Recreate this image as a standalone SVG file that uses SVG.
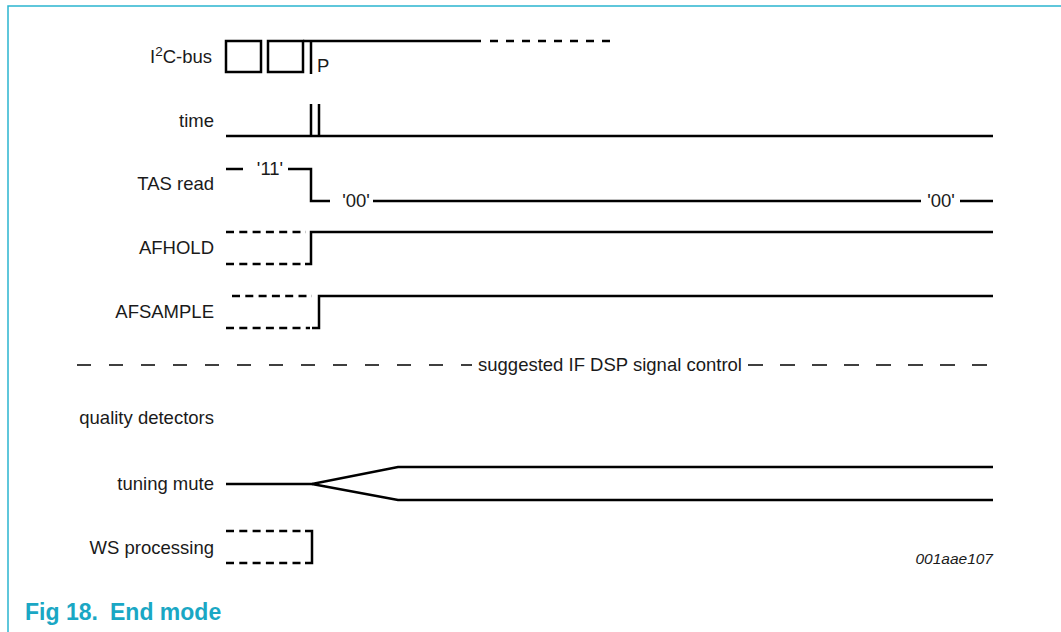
<svg xmlns="http://www.w3.org/2000/svg" width="1061" height="632" viewBox="0 0 1061 632">
<style>
.lbl{font-family:"Liberation Sans",Arial,sans-serif;font-size:18.5px;fill:#1a1a1a}
.end{text-anchor:end}
.mid{text-anchor:middle}
.sig{fill:none;stroke:#000;stroke-width:2.5;stroke-linejoin:miter}
.dsh{fill:none;stroke:#000;stroke-width:2.5;stroke-dasharray:8 5.3}
.dsp{fill:none;stroke:#000;stroke-width:1.3}
.border{fill:none;stroke:#2bb5cf;stroke-width:1.5}
</style>
<rect width="1061" height="632" fill="#fff"/>
<path class="border" d="M8 632 V6 H1061"/>

<g id="labels">
<text class="lbl end" x="212" y="63">I<tspan font-size="13.5" dy="-7">2</tspan><tspan dy="7">C-bus</tspan></text>
<text class="lbl end" x="214" y="127">time</text>
<text class="lbl end" x="214" y="190">TAS read</text>
<text class="lbl end" x="214" y="254">AFHOLD</text>
<text class="lbl end" x="214" y="318">AFSAMPLE</text>
<text class="lbl end" x="214" y="424">quality detectors</text>
<text class="lbl end" x="214" y="490">tuning mute</text>
<text class="lbl end" x="214" y="554">WS processing</text>
</g>

<g id="i2c-bus">
<rect class="sig" x="226" y="41" width="35" height="31"/>
<rect class="sig" x="268" y="41" width="35" height="31"/>
<path class="sig" d="M303 41 H481"/>
<path class="sig" d="M311 41 V74"/>
<path class="sig" d="M490 41 H612" stroke-dasharray="8 8"/>
<text class="lbl" x="317" y="72">P</text>
</g>

<g id="time">
<path class="sig" d="M226 136 H993"/>
<path class="sig" d="M311 104 V136 M319 104 V136"/>
</g>

<g id="tas-read">
<path class="sig" d="M226 169 H243"/>
<text class="lbl mid" x="270" y="175">'11'</text>
<path class="sig" d="M288 169 H311 V201 H330"/>
<text class="lbl mid" x="356" y="207">'00'</text>
<path class="sig" d="M373 201 H921"/>
<text class="lbl mid" x="941" y="207">'00'</text>
<path class="sig" d="M960 201 H993"/>
</g>

<g id="afhold">
<path class="dsh" d="M226 232 H306"/>
<path class="dsh" d="M226 264 H303"/>
<path class="sig" d="M305 264 H311 V232 H993"/>
</g>

<g id="afsample">
<path class="dsh" d="M232 296 H312"/>
<path class="dsh" d="M226 328 H310"/>
<path class="sig" d="M312 328 H319 V296 H993"/>
</g>

<g id="dsp-control">
<path class="dsp" d="M77 365 H472" stroke-dasharray="14 18"/>
<text class="lbl mid" x="610" y="371">suggested IF DSP signal control</text>
<path class="dsp" d="M748 365 H990" stroke-dasharray="15 17"/>
</g>

<g id="tuning-mute">
<path class="sig" d="M226 484 H312 L398 467 H993"/>
<path class="sig" d="M312 484 L398 500 H993"/>
</g>

<g id="ws-processing">
<path class="dsh" d="M226 531 H303"/>
<path class="dsh" d="M226 563 H303"/>
<path class="sig" d="M305 531 H312 V563 H305"/>
</g>

<text x="993" y="564" text-anchor="end" font-family="Liberation Sans,Arial,sans-serif" font-size="15.5" font-style="italic" fill="#1a1a1a">001aae107</text>

<g id="caption" font-family="Liberation Sans,Arial,sans-serif" font-weight="bold" font-size="23" fill="#1aa7c4">
<text x="25" y="620">Fig 18.</text>
<text x="110" y="620">End mode</text>
</g>
</svg>
